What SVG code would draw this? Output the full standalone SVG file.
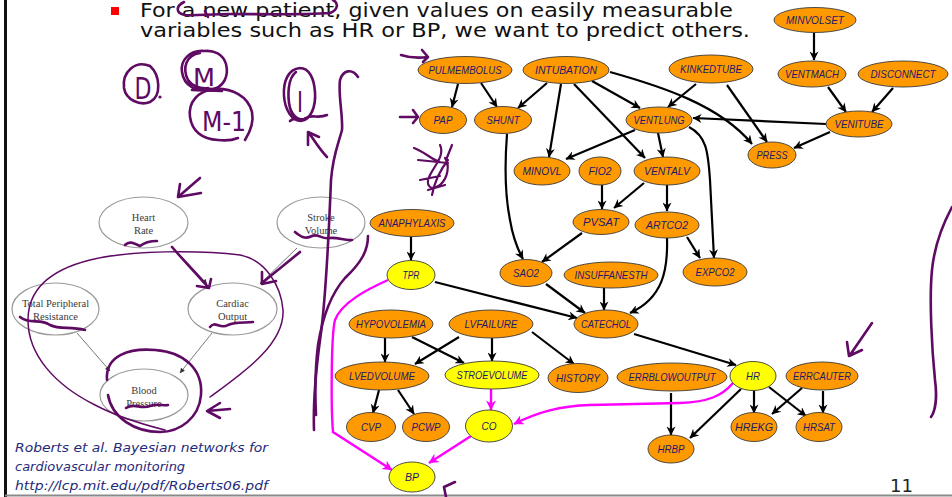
<svg xmlns="http://www.w3.org/2000/svg" width="952" height="497" viewBox="0 0 952 497">
  <style>
    .nd { fill: #FF9900; stroke: #3a3a3a; stroke-width: 0.9; }
    .ny { fill: #FFFF00; stroke: #3a3a3a; stroke-width: 0.9; }
    .lbl { font-family: "Liberation Sans", Arial, sans-serif; font-style: italic; font-size: 11px; fill: #22196a; text-anchor: middle; }
    .e { fill: none; stroke: #000; stroke-width: 2.2; marker-end: url(#ah); }
    .ep { fill: none; stroke: #FF00FF; stroke-width: 2.4; marker-end: url(#ahp); }
    .sn { fill: #fff; stroke: #9a9a9a; stroke-width: 1.2; }
    .st { font-family: "Liberation Serif", "Times New Roman", serif; font-size: 10.5px; fill: #3a3a3a; text-anchor: middle; }
    .se { fill: none; stroke: #7a7a7a; stroke-width: 1; marker-end: url(#ahs); }
    .ink { fill: none; stroke: #5f0a63; stroke-width: 2.6; stroke-linecap: round; stroke-linejoin: round; }
    .inkt { font-family: "DejaVu Sans", sans-serif; fill: #5f0a63; }
    .title { font-family: "DejaVu Sans", Verdana, sans-serif; font-size: 20px; fill: #111; }
    .cite { font-family: "DejaVu Sans", Verdana, sans-serif; font-style: italic; font-size: 13px; fill: #1f2a7a; }
  </style>
  <defs>
    <marker id="ah" viewBox="0 0 10 10" refX="9.5" refY="5" markerWidth="10" markerHeight="9" markerUnits="userSpaceOnUse" orient="auto">
      <path d="M0,0 L10,5 L0,10 L3,5 z" fill="#000"/>
    </marker>
    <marker id="ahp" viewBox="0 0 10 10" refX="9.5" refY="5" markerWidth="11" markerHeight="10" markerUnits="userSpaceOnUse" orient="auto">
      <path d="M0,0 L10,5 L0,10 L3,5 z" fill="#FF00FF"/>
    </marker>
    <marker id="ahs" viewBox="0 0 10 10" refX="9.5" refY="5" markerWidth="6" markerHeight="5" markerUnits="userSpaceOnUse" orient="auto">
      <path d="M0,0 L10,5 L0,10 z" fill="#333"/>
    </marker>
  </defs>

  <rect width="952" height="497" fill="#fff"/>
  <!-- slide frame -->
  <rect x="4" y="0" width="3" height="497" fill="#111"/>
  <rect x="5" y="494.5" width="947" height="2" fill="#8a8a8a"/>

  <!-- heading -->
  <rect x="111" y="7" width="8" height="8" fill="#FF0000"/>
  <text class="title" x="140" y="17" textLength="593" lengthAdjust="spacingAndGlyphs">For a new patient, given values on easily measurable</text>
  <text class="title" x="140" y="37" textLength="610" lengthAdjust="spacingAndGlyphs">variables such as HR or BP, we want to predict others.</text>

  <!-- small cardiovascular model -->
  <g id="small-edges">
    <path class="se" d="M172,247 L207,284"/>
    <path class="se" d="M297,248 L260,284"/>
    <path class="se" d="M77,333 L110,371"/>
    <path class="se" d="M212,333 L180,373"/>
  </g>
  <g id="s-heartrate"><ellipse class="sn" cx="143.5" cy="222.5" rx="44.5" ry="25.5"/><text class="st" x="143.5" y="221">Heart</text><text class="st" x="143.5" y="234">Rate</text></g>
  <g id="s-strokevolume"><ellipse class="sn" cx="321" cy="222.5" rx="44" ry="25.5"/><text class="st" x="321" y="221">Stroke</text><text class="st" x="321" y="234">Volume</text></g>
  <g id="s-tpr"><ellipse class="sn" cx="55.5" cy="309" rx="43.5" ry="26"/><text class="st" x="55.5" y="307">Total Peripheral</text><text class="st" x="55.5" y="320">Resistance</text></g>
  <g id="s-cardiacoutput"><ellipse class="sn" cx="232.5" cy="309" rx="44.5" ry="26"/><text class="st" x="232.5" y="307">Cardiac</text><text class="st" x="232.5" y="320">Output</text></g>
  <g id="s-bloodpressure"><ellipse class="sn" cx="144" cy="395" rx="44" ry="26"/><text class="st" x="144" y="394">Blood</text><text class="st" x="144" y="407">Pressure</text></g>

  <!-- network connectors -->
  <g id="connectors">
    <path class="e" d="M814,33 L814,60"/>
    <path class="e" d="M458,84 L452,107"/>
    <path class="e" d="M481,83 L497,107"/>
    <path class="e" d="M547,83 L518,108"/>
    <path class="e" d="M561,84 L549,157"/>
    <path class="e" d="M574,84 L645,158"/>
    <path class="e" d="M592,81 L640,108"/>
    <path class="e" d="M610,72 C660,86 720,105 752,144"/>
    <path class="e" d="M696,84 L668,107"/>
    <path class="e" d="M727,85 L767,142"/>
    <path class="e" d="M828,87 L846,112"/>
    <path class="e" d="M893,88 L872,112"/>
    <path class="e" d="M826,124 L693,118"/>
    <path class="e" d="M830,132 L794,148"/>
    <path class="e" d="M635,130 L566,159"/>
    <path class="e" d="M658,133 L663,157"/>
    <path class="e" d="M689,127 C706,136 708,150 710,180 L714,258"/>
    <path class="e" d="M507,134 C505,160 505,195 510,220 C513,238 518,250 523,259"/>
    <path class="e" d="M602,185 L602,209"/>
    <path class="e" d="M644,183 L614,208"/>
    <path class="e" d="M667,185 L667,211"/>
    <path class="e" d="M582,233 L542,262"/>
    <path class="e" d="M687,237 L700,258"/>
    <path class="e" d="M667,238 C668,270 663,298 630,313"/>
    <path class="e" d="M411,237 L411,260"/>
    <path class="e" d="M435,282 L577,318"/>
    <path class="e" d="M546,284 L585,313"/>
    <path class="e" d="M604,288 L604,310"/>
    <path class="e" d="M634,334 L736,365"/>
    <path class="e" d="M385,338 L385,362"/>
    <path class="e" d="M412,337 L464,363"/>
    <path class="e" d="M459,337 L415,364"/>
    <path class="e" d="M492,338 L492,361"/>
    <path class="e" d="M532,332 L574,364"/>
    <path class="e" d="M379,390 L373,413"/>
    <path class="e" d="M398,390 L414,414"/>
    <path class="e" d="M671,393 L671,435"/>
    <path class="e" d="M741,389 L690,438"/>
    <path class="e" d="M754,391 L754,413"/>
    <path class="e" d="M769,387 L806,416"/>
    <path class="e" d="M802,388 L772,414"/>
    <path class="e" d="M823,391 L823,413"/>
    <path class="ep" d="M491,389 L491,410"/>
    <path class="ep" d="M733,383 C722,396 708,402 680,403 L590,405 C560,406 538,412 514,424"/>
    <path class="ep" d="M471,436 L429,463"/>
    <path class="ep" d="M388,280 C368,289 342,302 335,320 C331,335 331,410 333,432 L392,470"/>
  </g>

  <!-- network nodes -->
  <g id="MINVOLSET"><ellipse class="nd" cx="815" cy="20" rx="41" ry="12.5"/><text class="lbl" x="815" y="24" textLength="58" lengthAdjust="spacingAndGlyphs">MINVOLSET</text></g>
  <g id="PULMEMBOLUS"><ellipse class="nd" cx="465" cy="70" rx="47" ry="13.5"/><text class="lbl" x="465" y="74" textLength="73" lengthAdjust="spacingAndGlyphs">PULMEMBOLUS</text></g>
  <g id="INTUBATION"><ellipse class="nd" cx="566" cy="70" rx="43" ry="13.5"/><text class="lbl" x="566" y="74" textLength="62" lengthAdjust="spacingAndGlyphs">INTUBATION</text></g>
  <g id="KINKEDTUBE"><ellipse class="nd" cx="711" cy="69" rx="42" ry="14"/><text class="lbl" x="711" y="73" textLength="62" lengthAdjust="spacingAndGlyphs">KINKEDTUBE</text></g>
  <g id="VENTMACH"><ellipse class="nd" cx="812" cy="74" rx="34" ry="13"/><text class="lbl" x="812" y="78" textLength="54" lengthAdjust="spacingAndGlyphs">VENTMACH</text></g>
  <g id="DISCONNECT"><ellipse class="nd" cx="903" cy="74" rx="45" ry="13"/><text class="lbl" x="903" y="78" textLength="65" lengthAdjust="spacingAndGlyphs">DISCONNECT</text></g>
  <g id="PAP"><ellipse class="nd" cx="443" cy="120" rx="23.5" ry="13.5"/><text class="lbl" x="443" y="124" textLength="19" lengthAdjust="spacingAndGlyphs">PAP</text></g>
  <g id="SHUNT"><ellipse class="nd" cx="503" cy="120" rx="28.5" ry="13.5"/><text class="lbl" x="503" y="124" textLength="33" lengthAdjust="spacingAndGlyphs">SHUNT</text></g>
  <g id="VENTLUNG"><ellipse class="nd" cx="659" cy="120" rx="33" ry="13"/><text class="lbl" x="659" y="124" textLength="51" lengthAdjust="spacingAndGlyphs">VENTLUNG</text></g>
  <g id="VENITUBE"><ellipse class="nd" cx="859" cy="124" rx="33" ry="13"/><text class="lbl" x="859" y="128" textLength="49" lengthAdjust="spacingAndGlyphs">VENITUBE</text></g>
  <g id="PRESS"><ellipse class="nd" cx="772" cy="155" rx="24" ry="13"/><text class="lbl" x="772" y="159" textLength="31" lengthAdjust="spacingAndGlyphs">PRESS</text></g>
  <g id="MINOVL"><ellipse class="nd" cx="542" cy="171" rx="28" ry="14"/><text class="lbl" x="542" y="175" textLength="39" lengthAdjust="spacingAndGlyphs">MINOVL</text></g>
  <g id="FIO2"><ellipse class="nd" cx="600" cy="171" rx="21" ry="14"/><text class="lbl" x="600" y="175" textLength="23" lengthAdjust="spacingAndGlyphs">FIO2</text></g>
  <g id="VENTALV"><ellipse class="nd" cx="667" cy="171" rx="33" ry="14"/><text class="lbl" x="667" y="175" textLength="46" lengthAdjust="spacingAndGlyphs">VENTALV</text></g>
  <g id="PVSAT"><ellipse class="nd" cx="601" cy="222" rx="28" ry="12.5"/><text class="lbl" x="601" y="226" textLength="36" lengthAdjust="spacingAndGlyphs">PVSAT</text></g>
  <g id="ARTCO2"><ellipse class="nd" cx="667" cy="225" rx="32" ry="13"/><text class="lbl" x="667" y="229" textLength="42" lengthAdjust="spacingAndGlyphs">ARTCO2</text></g>
  <g id="ANAPHYLAXIS"><ellipse class="nd" cx="412" cy="223" rx="42" ry="13.5"/><text class="lbl" x="412" y="227" textLength="67" lengthAdjust="spacingAndGlyphs">ANAPHYLAXIS</text></g>
  <g id="TPR"><ellipse class="ny" cx="411" cy="275" rx="24" ry="14.5"/><text class="lbl" x="411" y="279" textLength="17" lengthAdjust="spacingAndGlyphs">TPR</text></g>
  <g id="SAO2"><ellipse class="nd" cx="526" cy="273" rx="26" ry="13.5"/><text class="lbl" x="526" y="277" textLength="26" lengthAdjust="spacingAndGlyphs">SAO2</text></g>
  <g id="INSUFFANESTH"><ellipse class="nd" cx="611" cy="275" rx="47" ry="13"/><text class="lbl" x="611" y="279" textLength="73" lengthAdjust="spacingAndGlyphs">INSUFFANESTH</text></g>
  <g id="EXPCO2"><ellipse class="nd" cx="715" cy="272" rx="32" ry="14"/><text class="lbl" x="715" y="276" textLength="39" lengthAdjust="spacingAndGlyphs">EXPCO2</text></g>
  <g id="CATECHOL"><ellipse class="nd" cx="606" cy="324" rx="32" ry="14"/><text class="lbl" x="606" y="328" textLength="50" lengthAdjust="spacingAndGlyphs">CATECHOL</text></g>
  <g id="HYPOVOLEMIA"><ellipse class="nd" cx="391" cy="324" rx="42" ry="14"/><text class="lbl" x="391" y="328" textLength="70" lengthAdjust="spacingAndGlyphs">HYPOVOLEMIA</text></g>
  <g id="LVFAILURE"><ellipse class="nd" cx="491" cy="324" rx="42" ry="14"/><text class="lbl" x="491" y="328" textLength="53" lengthAdjust="spacingAndGlyphs">LVFAILURE</text></g>
  <g id="LVEDVOLUME"><ellipse class="nd" cx="382" cy="376" rx="47" ry="14"/><text class="lbl" x="382" y="380" textLength="66" lengthAdjust="spacingAndGlyphs">LVEDVOLUME</text></g>
  <g id="STROEVOLUME"><ellipse class="ny" cx="492" cy="375" rx="47" ry="14"/><text class="lbl" x="492" y="379" textLength="71" lengthAdjust="spacingAndGlyphs">STROEVOLUME</text></g>
  <g id="HISTORY"><ellipse class="nd" cx="578" cy="378" rx="30" ry="14.5"/><text class="lbl" x="578" y="382" textLength="44" lengthAdjust="spacingAndGlyphs">HISTORY</text></g>
  <g id="ERRBLOWOUTPUT"><ellipse class="nd" cx="672" cy="377" rx="55" ry="14"/><text class="lbl" x="672" y="381" textLength="87" lengthAdjust="spacingAndGlyphs">ERRBLOWOUTPUT</text></g>
  <g id="HR"><ellipse class="ny" cx="753" cy="376" rx="23" ry="14.5"/><text class="lbl" x="753" y="380" textLength="14" lengthAdjust="spacingAndGlyphs">HR</text></g>
  <g id="ERRCAUTER"><ellipse class="nd" cx="822" cy="376" rx="36" ry="14"/><text class="lbl" x="822" y="380" textLength="58" lengthAdjust="spacingAndGlyphs">ERRCAUTER</text></g>
  <g id="CVP"><ellipse class="nd" cx="371" cy="427" rx="24.5" ry="14.5"/><text class="lbl" x="371" y="431" textLength="20" lengthAdjust="spacingAndGlyphs">CVP</text></g>
  <g id="PCWP"><ellipse class="nd" cx="426" cy="427" rx="23.5" ry="14.5"/><text class="lbl" x="426" y="431" textLength="29" lengthAdjust="spacingAndGlyphs">PCWP</text></g>
  <g id="CO"><ellipse class="ny" cx="489" cy="426" rx="23.5" ry="16"/><text class="lbl" x="489" y="430" textLength="15" lengthAdjust="spacingAndGlyphs">CO</text></g>
  <g id="HREKG"><ellipse class="nd" cx="754" cy="427" rx="23" ry="14.5"/><text class="lbl" x="754" y="431" textLength="38" lengthAdjust="spacingAndGlyphs">HREKG</text></g>
  <g id="HRSAT"><ellipse class="nd" cx="819" cy="427" rx="23" ry="14.5"/><text class="lbl" x="819" y="431" textLength="32" lengthAdjust="spacingAndGlyphs">HRSAT</text></g>
  <g id="HRBP"><ellipse class="nd" cx="671" cy="449" rx="23" ry="14"/><text class="lbl" x="671" y="453" textLength="27" lengthAdjust="spacingAndGlyphs">HRBP</text></g>
  <g id="BP"><ellipse class="ny" cx="412" cy="477" rx="23" ry="15"/><text class="lbl" x="412" y="481" textLength="14" lengthAdjust="spacingAndGlyphs">BP</text></g>

  <!-- reference note -->
  <text class="cite" x="15" y="452" textLength="253" lengthAdjust="spacingAndGlyphs">Roberts et al. Bayesian networks for</text>
  <text class="cite" x="15" y="471">cardiovascular monitoring</text>
  <text class="cite" x="15" y="490" textLength="253" lengthAdjust="spacingAndGlyphs">http://lcp.mit.edu/pdf/Roberts06.pdf</text>

  <text x="913" y="492" font-family="DejaVu Sans, sans-serif" font-size="18" fill="#222" text-anchor="end">11</text>

  <!-- pen annotations -->
  <g id="ink">
    <path class="ink" d="M184,2 C176,6 175,13 185,15 C195,16 210,14 230,14 C260,14 300,15 330,13 C338,10 339,3 333,0"/>
    <path class="ink" d="M205,11 L208,17"/>
    <path class="ink" d="M150,66 C135,60 122,72 124,88 C126,100 140,106 150,102 C162,96 160,75 150,66"/>
    <text class="inkt" x="143" y="99" font-size="30" text-anchor="middle" textLength="17" lengthAdjust="spacingAndGlyphs">D</text>
    <circle cx="160" cy="97" r="1.6" fill="#5f0a63"/>
    <path class="ink" d="M204,51 C190,50 180,60 182,72 C184,86 196,92 210,90 C224,88 229,76 226,64 C223,54 214,50 204,51 M200,53 C186,55 182,68 188,80 C192,86 200,89 208,88 M192,90 L222,91"/>
    <path class="ink" style="stroke-width:4" d="M194,89 L220,90"/>
    <text class="inkt" x="204" y="86" font-size="24" text-anchor="middle" textLength="22" lengthAdjust="spacingAndGlyphs">M</text>
    <path class="ink" d="M245,140 C250,132 254,122 252,112 C248,96 232,88 214,89 C198,91 188,102 190,117 C192,131 202,139 218,140 C226,141 233,140 238,138"/>
    <text class="inkt" x="224" y="131" font-size="26" text-anchor="middle" textLength="44" lengthAdjust="spacingAndGlyphs">M-1</text>
    <path class="ink" d="M300,68 C288,69 283,82 284,96 C285,110 292,121 301,121 C311,120 316,106 315,92 C314,78 309,68 300,68 M296,72 C288,78 287,95 290,108 C293,117 300,122 306,118"/>
    <text class="inkt" x="300" y="112" font-size="28" text-anchor="middle" textLength="6" lengthAdjust="spacingAndGlyphs">I</text>
    <path class="ink" d="M290,121 C296,115 300,124 306,118 C312,114 318,119 327,115"/>
    <path class="ink" d="M327,157 C320,150 314,140 309,133 M308,145 L308,132 L319,137"/>
    <path class="ink" d="M358,77 C352,68 343,70 340,80 C338,95 343,115 342,130 C338,145 333,155 331,180 C329,230 326,300 320,340 C316,370 313,400 314,430"/>
    <path class="ink" d="M368,236 C368,250 362,262 345,278 C330,295 322,320 318,345 C315,370 315,395 316,415"/>
    <path class="ink" d="M295,232 C300,236 305,240 312,236 C318,233 322,240 330,238 C338,237 345,241 352,240"/>
    <path class="ink" d="M125,245 C130,240 135,244 140,246 C145,242 150,241 157,241"/>
    <path class="ink" d="M200,178 L178,197 M180,184 L178,197 L201,193"/>
    <path class="ink" d="M20,317 C30,325 40,318 50,325 C60,330 70,326 85,330"/>
    <path class="ink" d="M210,327 C215,320 220,330 228,325 C235,322 245,323 253,322"/>
    <path class="ink" d="M172,247 C185,262 195,272 208,287 M197,286 L209,288 L211,279"/>
    <path class="ink" d="M300,252 C288,262 275,272 262,283 M262,272 L262,284 L276,281"/>
    <path class="ink" style="stroke-width:1.5" d="M210,397 C240,375 285,345 283,310 C281,285 265,260 240,255 C200,250 130,250 90,260 C50,270 28,290 28,320 C28,355 55,385 95,405 C120,418 145,425 165,430"/>
    <path class="ink" d="M107,380 C105,355 130,348 155,350 C185,352 203,370 201,395 C199,418 180,432 160,432 C135,432 112,418 108,395"/>
    <path class="ink" d="M126,408 C135,402 140,410 150,406 C158,403 163,406 168,405"/>
    <path class="ink" d="M207,411 L230,409 M220,403 L207,411 L220,418"/>
    <path class="ink" d="M401,55 C410,58 420,58 428,57 M422,50 L428,57 L423,62"/>
    <path class="ink" d="M400,117 L418,117 M413,110 L418,117 L413,123"/>
    <path class="ink" style="stroke-width:2.2" d="M414,148 C425,152 432,160 440,162 M418,160 L448,163 M440,145 C445,155 435,165 430,175 C425,185 430,192 440,185 C448,178 450,165 445,158 M432,195 C435,180 440,170 448,160 M452,145 L446,160 M420,180 L440,176 M428,190 L445,185"/>
    <path class="ink" d="M872,323 L850,355 M847,342 L849,356 L862,350"/>
    <path class="ink" d="M952,207 C945,220 935,240 932,270 C929,300 932,350 935,380 C937,395 936,410 931,417"/>
    <path class="ink" d="M455,482 L444,487 L446,497"/>
  </g>
</svg>
